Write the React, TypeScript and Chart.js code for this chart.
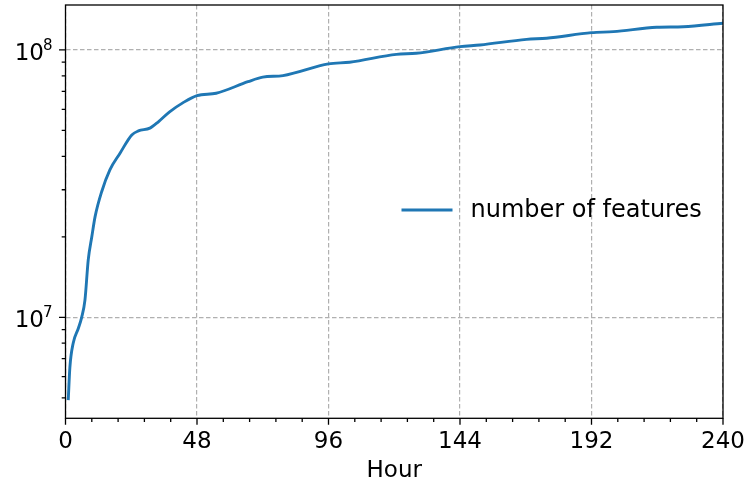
import { useRef, useEffect } from "react";
import { Chart, registerables } from "chart.js";

Chart.register(...registerables);

// hours since start and number of features (millions)
const hours = [
  1, 1.6, 2.8, 4.7, 5.9, 7.1, 8.3, 9.6, 10.8, 13.2, 16.2, 19.9, 24.2, 26.6,
  30.8, 34, 38, 42.8, 48, 55, 66.6, 72, 79.4, 96, 103.7, 120.8, 128, 144,
  151.3, 168.3, 175.6, 192, 200, 215.8, 225.5, 240,
];
const featuresM = [
  4.9, 6.5, 8.0, 9.1, 10.0, 11.6, 16.4, 20.0, 23.8, 29.5, 35.6, 41.1, 48.1,
  49.8, 51.0, 54.0, 58.7, 63.4, 67.5, 68.9, 76.1, 79.1, 80.2, 88.7, 90.0,
  96.3, 97.2, 102.9, 104.4, 109.6, 110.6, 116.1, 117.1, 121.6, 122.2, 125.9,
];
const xTicks = [0, 48, 96, 144, 192, 240];
const yMajor = [1e7, 1e8];
const yExponents = ["7", "8"];
const legendLabel = "number of features";

const FONT = "'DejaVu Sans', sans-serif";
const BLUE = "#1f77b4";

const axesPlugin = {
  id: "mplAxes",
  afterDraw(chart: any) {
    const { ctx, chartArea: a, scales } = chart;
    const x = scales.x;
    const y = scales.y;
    ctx.save();
    ctx.strokeStyle = "#000";
    ctx.lineWidth = 1.3;

    // x ticks (major + 4 minor between)
    ctx.beginPath();
    xTicks.forEach((t, i) => {
      const px = x.getPixelForValue(t);
      ctx.moveTo(px, a.bottom);
      ctx.lineTo(px, a.bottom + 6.5);
      if (i < xTicks.length - 1) {
        const step = (xTicks[i + 1] - t) / 5;
        for (let k = 1; k < 5; k++) {
          const mx = x.getPixelForValue(t + k * step);
          ctx.moveTo(mx, a.bottom);
          ctx.lineTo(mx, a.bottom + 3.8);
        }
      }
    });
    // y ticks (log majors and minors)
    yMajor.forEach((v) => {
      const py = y.getPixelForValue(v);
      ctx.moveTo(a.left, py);
      ctx.lineTo(a.left - 6.5, py);
    });
    for (let e = 6; e <= 8; e++) {
      for (let k = 2; k <= 9; k++) {
        const v = k * Math.pow(10, e);
        if (v < y.min || v > y.max) continue;
        const py = y.getPixelForValue(v);
        ctx.moveTo(a.left, py);
        ctx.lineTo(a.left - 3.8, py);
      }
    }
    ctx.stroke();

    // frame
    ctx.strokeRect(a.left, a.top, a.right - a.left, a.bottom - a.top);

    // y labels as 10^n
    ctx.fillStyle = "#000";
    ctx.textBaseline = "alphabetic";
    yMajor.forEach((v, i) => {
      const py = y.getPixelForValue(v);
      ctx.font = `23px ${FONT}`;
      ctx.textAlign = "right";
      ctx.fillText("10", a.left - 21.5, py + 10);
      ctx.font = `15px ${FONT}`;
      ctx.textAlign = "left";
      ctx.fillText(yExponents[i], a.left - 22.5, py);
    });

    // legend
    const lx = a.left + 336;
    const ly = a.top + 205;
    ctx.strokeStyle = BLUE;
    ctx.lineWidth = 2.8;
    ctx.beginPath();
    ctx.moveTo(lx, ly);
    ctx.lineTo(lx + 51, ly);
    ctx.stroke();
    ctx.font = `24px ${FONT}`;
    ctx.textAlign = "left";
    ctx.textBaseline = "middle";
    ctx.fillText(legendLabel, lx + 69, ly + 1);
    ctx.restore();
  },
};

export default function App() {
  const canvasRef = useRef<HTMLCanvasElement>(null);
  const chartRef = useRef<Chart | null>(null);

  useEffect(() => {
    document.body.style.margin = "0";
    if (!canvasRef.current) return;
    if (chartRef.current) chartRef.current.destroy();

    const data = hours.map((h, i) => ({ x: h, y: featuresM[i] * 1e6 }));

    chartRef.current = new Chart(canvasRef.current, {
      type: "line",
      data: {
        datasets: [
          {
            label: legendLabel,
            data,
            borderColor: BLUE,
            borderWidth: 2.9,
            pointRadius: 0,
            fill: false,
            cubicInterpolationMode: "monotone",
          },
        ],
      },
      options: {
        responsive: false,
        animation: false,
        layout: { padding: { top: 5, right: 23, left: 0, bottom: 0 } },
        plugins: {
          legend: { display: false },
          tooltip: { enabled: false },
        },
        scales: {
          x: {
            type: "linear",
            min: 0,
            max: 240,
            afterBuildTicks: (scale: any) => {
              scale.ticks = xTicks.map((v) => ({ value: v }));
            },
            afterFit: (scale: any) => {
              scale.height = 61.7;
              scale.paddingLeft = 0;
              scale.paddingRight = 0;
            },
            ticks: {
              color: "#000",
              font: { family: FONT, size: 23 },
              padding: 10,
              maxRotation: 0,
              autoSkip: false,
            },
            grid: { color: "#b0b0b0", lineWidth: 1.2, drawTicks: false },
            border: { display: false, dash: [4.5, 2.5] },
            title: {
              display: true,
              text: "Hour",
              color: "#000",
              font: { family: FONT, size: 23, lineHeight: 1 },
              padding: { top: 0, bottom: -3 },
            },
          },
          y: {
            type: "logarithmic",
            min: 4.19e6,
            max: 1.473e8,
            afterBuildTicks: (scale: any) => {
              scale.ticks = yMajor.map((v) => ({ value: v }));
            },
            afterFit: (scale: any) => {
              scale.width = 65.5;
              scale.paddingTop = 0;
              scale.paddingBottom = 0;
            },
            ticks: { display: false },
            grid: { color: "#b0b0b0", lineWidth: 1.2, drawTicks: false },
            border: { display: false, dash: [4.5, 2.5] },
          },
        },
      },
      plugins: [axesPlugin],
    } as any);

    return () => {
      if (chartRef.current) {
        chartRef.current.destroy();
        chartRef.current = null;
      }
    };
  }, []);

  return (
    <div style={{ width: 746, height: 480 }}>
      <canvas ref={canvasRef} width={746} height={480} />
    </div>
  );
}
